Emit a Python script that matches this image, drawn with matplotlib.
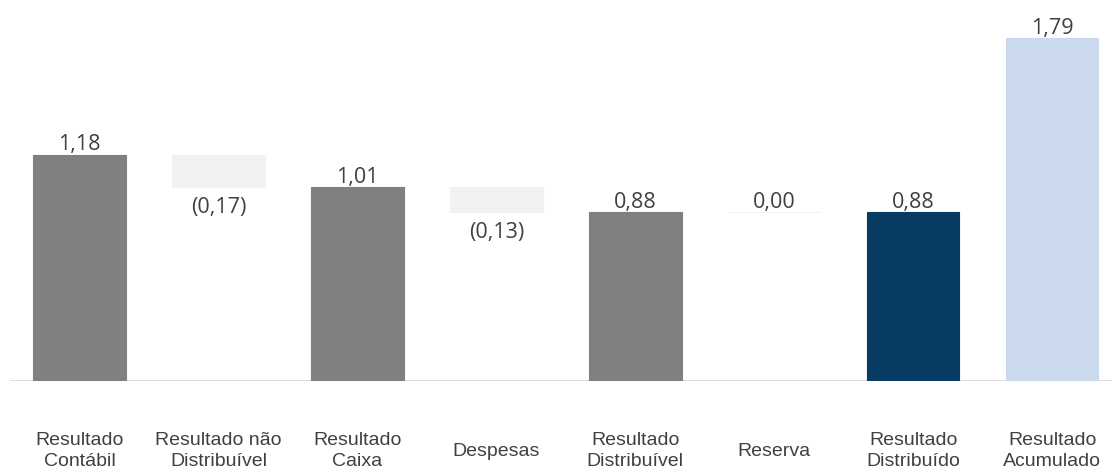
import numpy as np
import matplotlib
matplotlib.use('Agg')
import matplotlib.pyplot as plt
from matplotlib import font_manager

# dados do gráfico (cascata)
categorias = ['Resultado\nContábil', 'Resultado não\nDistribuível', 'Resultado\nCaixa', 'Despesas',
              'Resultado\nDistribuível', 'Reserva', 'Resultado\nDistribuído', 'Resultado\nAcumulado']
valores = [1.18, -0.17, 1.01, -0.13, 0.88, 0.00, 0.88, 1.79]
tipos = ['total', 'delta', 'total', 'delta', 'total', 'delta', 'total', 'total']
cores = ['#808080', '#f2f2f2', '#808080', '#f2f2f2', '#808080', '#f2f2f2', '#073b61', '#cbd9ec']

nomes = [f.name for f in font_manager.fontManager.ttflist]
fonte_cat = 'Liberation Sans Narrow' if 'Liberation Sans Narrow' in nomes else 'Liberation Sans'
fonte_val = 'Open Sans'


def fmt(v):
    s = '{:.2f}'.format(abs(v)).replace('.', ',')
    return '(' + s + ')' if v < 0 else s


fig = plt.figure(figsize=(11.12, 4.74), dpi=100)
ax = fig.add_axes([10 / 1112, 93.5 / 474, 1102 / 1112, 380.5 / 474])

x = np.arange(len(valores))
bases = []
alturas = []
for i, (v, t) in enumerate(zip(valores, tipos)):
    if t == 'total':
        bases.append(0)
        alturas.append(v)
    else:
        anterior = valores[i - 1]
        bases.append(anterior + v if v < 0 else anterior)
        alturas.append(abs(v))

ax.bar(x, alturas, bottom=bases, width=0.665, color=cores, edgecolor=cores, linewidth=0.8, zorder=2)

for i, v in enumerate(valores):
    if tipos[i] == 'delta' and v < 0:
        ax.text(x[i], bases[i] - 0.05, fmt(v), ha='center', va='top', fontsize=15.5,
                color='#404040', family=fonte_val)
    else:
        ax.text(x[i], bases[i] + alturas[i] + 0.022, fmt(v), ha='center', va='baseline', fontsize=15.5,
                color='#404040', family=fonte_val)

for i, c in enumerate(categorias):
    ax.text(x[i], -0.37, c, ha='center', va='center', fontsize=14, color='#404040',
            family=fonte_cat, linespacing=1.3)

ax.set_xlim(-0.5, 7.43)
ax.set_ylim(0, 380.5 / 191.5)
ax.axhline(0, color='#d9d9d9', linewidth=2, zorder=1)
for s in ax.spines.values():
    s.set_visible(False)
ax.set_xticks([])
ax.set_yticks([])

plt.savefig('out.png', dpi=100)
